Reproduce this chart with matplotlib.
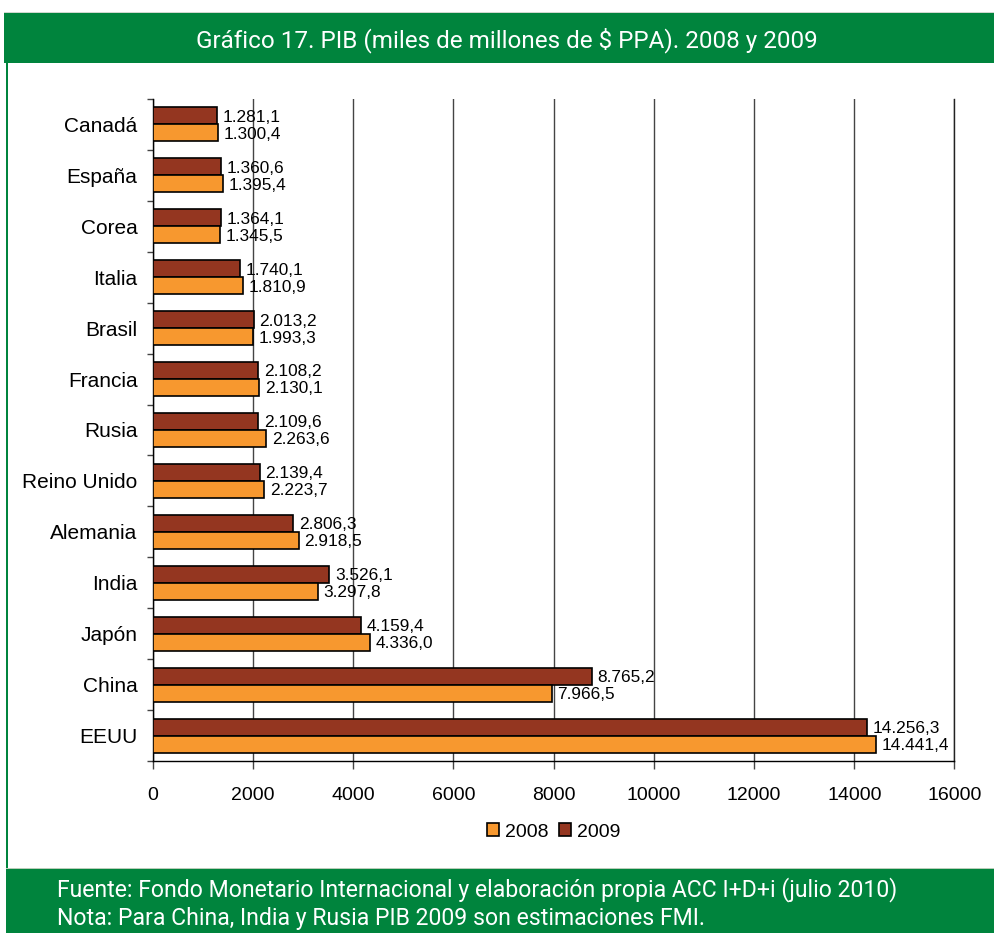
import matplotlib
matplotlib.use("Agg")
import matplotlib.pyplot as plt
from matplotlib.patches import Rectangle, Patch
import numpy as np

# GDP (billions of $ PPP), top-to-bottom order as shown
countries = ["Canadá", "España", "Corea", "Italia", "Brasil", "Francia", "Rusia",
             "Reino Unido", "Alemania", "India", "Japón", "China", "EEUU"]
gdp_2009 = [1281.1, 1360.6, 1364.1, 1740.1, 2013.2, 2108.2, 2109.6,
            2139.4, 2806.3, 3526.1, 4159.4, 8765.2, 14256.3]
gdp_2008 = [1300.4, 1395.4, 1345.5, 1810.9, 1993.3, 2130.1, 2263.6,
            2223.7, 2918.5, 3297.8, 4336.0, 7966.5, 14441.4]
series_labels = ["2008", "2009"]
x_ticks = [0, 2000, 4000, 6000, 8000, 10000, 12000, 14000, 16000]

title = "Gráfico 17. PIB (miles de millones de $ PPA). 2008 y 2009"
footer_lines = ["Fuente: Fondo Monetario Internacional y elaboración propia ACC I+D+i (julio 2010)",
                "Nota: Para China, India y Rusia PIB 2009 son estimaciones FMI."]

C2008 = "#F7982F"
C2009 = "#943620"
GREEN = "#00843D"
SANS = ["Liberation Sans", "DejaVu Sans"]
NARROW = ["Roboto", "DejaVu Sans"]

def es_fmt(v):
    s = f"{v:,.1f}"
    return s.replace(",", "X").replace(".", ",").replace("X", ".")

W, H = 995, 933
fig = plt.figure(figsize=(W / 100, H / 100), dpi=100)
fig.patch.set_facecolor("white")

# header band, side border and footer band
fig.add_artist(Rectangle((4 / W, 1 - 63 / H), 1, 51 / H, transform=fig.transFigure,
                         facecolor=GREEN, edgecolor="none", zorder=0))
fig.add_artist(Rectangle((4 / W, 1 - 12.5 / H), 1, 1 / H, transform=fig.transFigure,
                         facecolor="#cfd8cf", edgecolor="none", zorder=0))
fig.add_artist(Rectangle((6.5 / W, 0), 1.2 / W, 1 - 63 / H, transform=fig.transFigure,
                         facecolor=GREEN, edgecolor="none", zorder=0))
fig.add_artist(Rectangle((6.5 / W, 0), 1, (H - 868) / H, transform=fig.transFigure,
                         facecolor=GREEN, edgecolor="none", zorder=0))
fig.add_artist(Rectangle((6.5 / W, (H - 868.5) / H), 1, 1 / H, transform=fig.transFigure,
                         facecolor="#b8cdb8", edgecolor="none", zorder=0))

fig.text(507 / W, 1 - 40 / H, title, color="white", fontsize=17.5, family=NARROW,
         ha="center", va="center")
fig.text(57 / W, 1 - 890 / H, footer_lines[0], color="white", fontsize=16.6, family=NARROW,
         ha="left", va="center")
fig.text(57 / W, 1 - 918 / H, footer_lines[1], color="white", fontsize=16.6, family=NARROW,
         ha="left", va="center")

ax = fig.add_axes([152.7 / W, 1 - 761 / H, 801.8 / W, 662 / H])
n = len(countries)
ypos = np.arange(n)[::-1].astype(float)
bh = 0.334
ax.barh(ypos + bh / 2, gdp_2009, height=bh, color=C2009, edgecolor="black",
        linewidth=1.2, zorder=3)
ax.barh(ypos - bh / 2, gdp_2008, height=bh, color=C2008, edgecolor="black",
        linewidth=1.2, zorder=3)

for y, v in zip(ypos, gdp_2009):
    ax.annotate(es_fmt(v), (v, y + bh / 2), xytext=(4, -1), textcoords="offset points",
                ha="left", va="center", fontsize=12.4, family=SANS, zorder=4)
for y, v in zip(ypos, gdp_2008):
    ax.annotate(es_fmt(v), (v, y - bh / 2), xytext=(4, -1), textcoords="offset points",
                ha="left", va="center", fontsize=12.4, family=SANS, zorder=4)

ax.set_xlim(0, 16000)
ax.set_ylim(-0.5, n - 0.5)
ax.set_xticks(x_ticks)
ax.set_xticklabels([str(t) for t in x_ticks], family=SANS, fontsize=14)
ax.set_yticks(ypos)
ax.set_yticklabels(countries, family=SANS, fontsize=15)
ax.set_yticks(np.arange(n + 1) - 0.5, minor=True)

ax.grid(axis="x", color="#444444", linewidth=1.0, zorder=0)
ax.axvline(16000, color="#222222", linewidth=1.0, clip_on=False, zorder=1)
ax.set_axisbelow(True)
ax.tick_params(axis="x", direction="out", length=5.5, width=1, color="#444444", pad=13)
ax.tick_params(axis="y", which="major", length=0, pad=11)
ax.tick_params(axis="y", which="minor", direction="out", length=4.5, width=1, color="#444444")
for side in ["top", "right"]:
    ax.spines[side].set_visible(False)
ax.spines["left"].set_color("black")
ax.spines["bottom"].set_color("black")
ax.spines["left"].set_linewidth(1)
ax.spines["bottom"].set_linewidth(1)

handles = [Patch(facecolor=C2008, edgecolor="black", linewidth=1.2),
           Patch(facecolor=C2009, edgecolor="black", linewidth=1.2)]
fig.legend(handles, series_labels, loc="center", bbox_to_anchor=(553.6 / W, 1 - 832 / H),
           ncol=2, frameon=False, prop={"family": SANS, "size": 14},
           handlelength=0.65, handleheight=0.65, handletextpad=0.3, columnspacing=0.5,
           borderpad=0)

fig.savefig("out.png", dpi=100, facecolor="white")
